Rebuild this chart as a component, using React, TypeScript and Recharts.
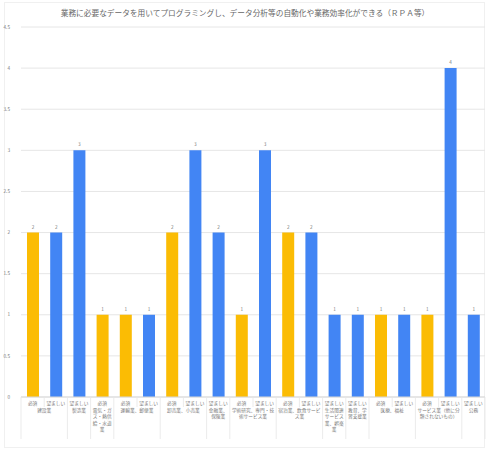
import { BarChart, Bar, XAxis, YAxis, CartesianGrid, Cell, LabelList } from "recharts"

const title = "業務に必要なデータを用いてプログラミングし、データ分析等の自動化や業務効率化ができる（ＲＰＡ等）"

// one bar per (industry, tier) pair
const tiers = [
  "必須", "望ましい", "望ましい", "必須", "必須", "望ましい", "必須", "望ましい", "望ましい", "必須",
  "望ましい", "必須", "望ましい", "望ましい", "望ましい", "必須", "望ましい", "必須", "望ましい", "望ましい",
]
const industries = [
  "建設業", "建設業", "製造業", "電気・ガス・熱供給・水道業", "運輸業、郵便業", "運輸業、郵便業",
  "卸売業、小売業", "卸売業、小売業", "金融業、保険業", "学術研究、専門・技術サービス業",
  "学術研究、専門・技術サービス業", "宿泊業、飲食サービス業", "宿泊業、飲食サービス業",
  "生活関連サービス業、娯楽業", "教育、学習支援業", "医療、福祉", "医療、福祉",
  "サービス業（他に分類されないもの）", "サービス業（他に分類されないもの）", "公務",
]
const counts = [2, 2, 3, 1, 1, 1, 2, 3, 2, 1, 3, 2, 2, 1, 1, 1, 1, 1, 4, 1]
const yTicks = [0, 0.5, 1, 1.5, 2, 2.5, 3, 3.5, 4, 4.5]

const tierColors: Record<string, string> = { "必須": "#fbbc04", "望ましい": "#4285f4" }

const W = 488
const H = 451
const Y_AXIS_W = 21
const MARGIN_RIGHT = 3
const SLOT = (W - Y_AXIS_W - MARGIN_RIGHT) / counts.length
const CHAR_W = 4.8
const FONT = "'Noto Sans CJK JP', 'Noto Sans', sans-serif"
const TEXT = "#7a7a7a"

const data = counts.map((count, i) => ({
  key: String(i),
  tier: tiers[i],
  industry: industries[i],
  count,
}))

function wrap(text: string, max: number) {
  const lines: string[] = []
  for (let i = 0; i < text.length; i += max) lines.push(text.slice(i, i + max))
  return lines
}

function IndustryTick(props: any) {
  const { x, y, index } = props
  const group = industries[index]
  const left = x - SLOT / 2
  const isStart = index === 0 || industries[index - 1] !== group
  const isLast = index === industries.length - 1

  let span = 0
  if (isStart) {
    while (index + span < industries.length && industries[index + span] === group) span++
  }
  const lines = isStart ? wrap(group, Math.floor((span * SLOT) / CHAR_W)) : []

  return (
    <g fontFamily={FONT} fill={TEXT}>
      <text x={x} y={y + 7.5} textAnchor="middle" fontSize={4.7}>{tiers[index]}</text>
      <line x1={left} x2={left} y1={y} y2={isStart ? y + 42 : y + 10} stroke="#e6e6e6" strokeWidth={0.8} />
      {isLast && <line x1={x + SLOT / 2} x2={x + SLOT / 2} y1={y} y2={y + 42} stroke="#e6e6e6" strokeWidth={0.8} />}
      {lines.map((line, i) => (
        <text key={i} x={left + (span * SLOT) / 2} y={y + 15 + i * 6.3} textAnchor="middle" fontSize={4.7}>
          {line}
        </text>
      ))}
    </g>
  )
}

export default function App() {
  return (
    <div style={{ position: "absolute", left: 0, top: 0, width: W, height: H, background: "#fff" }}>
      <div
        style={{
          position: "absolute", left: 4, top: 2, width: W - 7, height: H - 5,
          border: "1px solid #f0f0f0", boxSizing: "border-box",
        }}
      />
      <svg width={W} height={24} style={{ position: "absolute", left: 0, top: 0 }}>
        <text x={245} y={16} textAnchor="middle" fontSize={7.7} fontFamily={FONT} fill="#666">
          {title}
        </text>
      </svg>
      <div style={{ position: "absolute", left: 0, top: 0 }}>
        <BarChart width={W} height={H} data={data} margin={{ top: 27, right: MARGIN_RIGHT, bottom: 4, left: 0 }}>
          <CartesianGrid vertical={false} stroke="#e6e6e6" />
          <YAxis
            width={Y_AXIS_W}
            domain={[0, 4.5]}
            ticks={yTicks}
            axisLine={false}
            tickLine={false}
            tickMargin={5}
            tick={{ fontSize: 4.7, fill: TEXT, fontFamily: FONT }}
          />
          <XAxis
            dataKey="key"
            height={50}
            interval={0}
            tickLine={false}
            tickSize={0}
            tickMargin={0}
            axisLine={{ stroke: "#d9d9d9" }}
            tick={<IndustryTick />}
          />
          <Bar dataKey="count" barSize={12} isAnimationActive={false}>
            {data.map((d) => (
              <Cell key={d.key} fill={tierColors[d.tier]} />
            ))}
            <LabelList dataKey="count" position="top" offset={4} fontSize={4.7} fill={TEXT} fontFamily={FONT} />
          </Bar>
        </BarChart>
      </div>
    </div>
  )
}
